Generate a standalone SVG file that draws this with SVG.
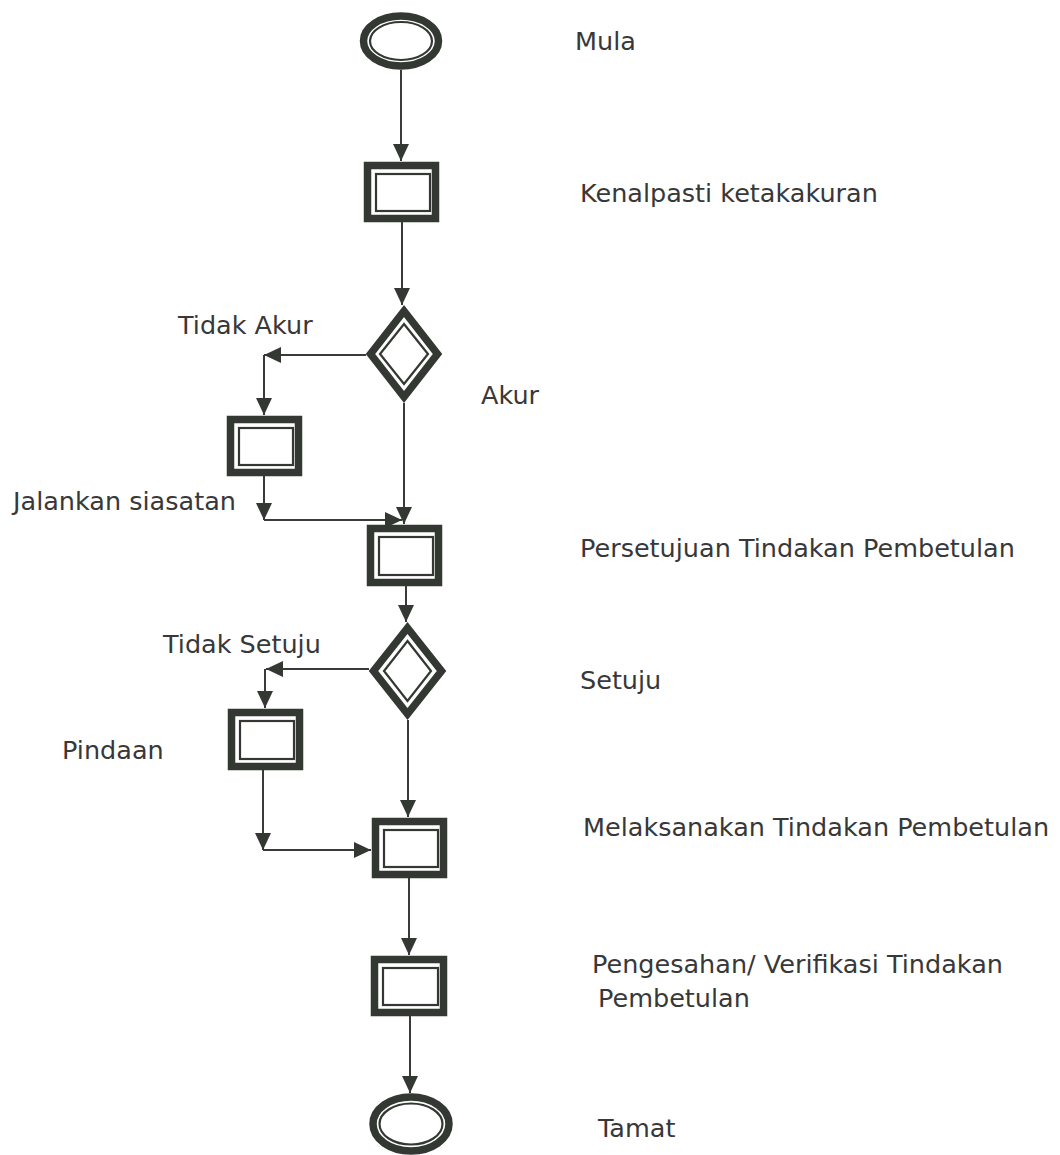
<svg xmlns="http://www.w3.org/2000/svg" width="1060" height="1155" viewBox="0 0 1060 1155">
<style>
.thick{fill:#fff;stroke:#333833;stroke-width:7.5;stroke-linejoin:miter}
.thin{fill:#fff;stroke:#333833;stroke-width:2.2}
.conn{fill:none;stroke:#3a3a3a;stroke-width:2;marker-end:url(#ah)}
text{font-family:"DejaVu Sans","Verdana",sans-serif;font-size:25.5px;fill:#383838}
</style>
<defs>
<marker id="ah" markerUnits="userSpaceOnUse" markerWidth="20" markerHeight="20" refX="17" refY="10" orient="auto" viewBox="0 0 20 20">
<path d="M0,2 L17,10 L0,18 z" fill="#333833"/>
</marker>
</defs>
<rect width="1060" height="1155" fill="#fff"/>
<g id="connectors">
<line class="conn" x1="401" y1="70" x2="401" y2="161"/>
<line class="conn" x1="402" y1="222" x2="402" y2="305"/>
<line class="conn" x1="366" y1="355" x2="264" y2="355"/>
<line class="conn" x1="264" y1="355" x2="264" y2="415"/>
<line class="conn" x1="264" y1="476" x2="264" y2="520"/>
<line class="conn" x1="264" y1="520" x2="402" y2="520"/>
<line class="conn" x1="404" y1="403" x2="404" y2="524"/>
<line class="conn" x1="406" y1="586" x2="406" y2="622"/>
<line class="conn" x1="369" y1="669" x2="266" y2="669"/>
<line class="conn" x1="265" y1="669" x2="265" y2="708"/>
<line class="conn" x1="263" y1="770" x2="263" y2="850"/>
<line class="conn" x1="263" y1="850" x2="371" y2="850"/>
<line class="conn" x1="408" y1="720" x2="408" y2="817"/>
<line class="conn" x1="409" y1="878" x2="409" y2="955"/>
<line class="conn" x1="410" y1="1016" x2="410" y2="1093"/>
</g>
<g id="start">
<ellipse class="thick" cx="401" cy="41" rx="37.5" ry="25" stroke-width="7"/>
<ellipse class="thin" cx="401" cy="41" rx="31" ry="19"/>
</g>
<g id="box1">
<rect class="thick" x="367.5" y="165.5" width="68" height="53"/>
<rect class="thin" x="376" y="174" width="54" height="37"/>
</g>
<g id="decision1">
<polygon class="thick" points="404,311 437.5,354 404,397 370.5,354"/>
<polygon class="thin" points="404,324 428,354 404,384 380,354"/>
</g>
<g id="box2">
<rect class="thick" x="230.5" y="419.5" width="68" height="53"/>
<rect class="thin" x="239" y="428" width="54" height="37"/>
</g>
<g id="box3">
<rect class="thick" x="370.5" y="528.5" width="68" height="54"/>
<rect class="thin" x="379" y="537" width="54" height="38"/>
</g>
<g id="decision2">
<polygon class="thick" points="407.5,628 441.5,671 407.5,714 373.5,671"/>
<polygon class="thin" points="407.5,641 431,671 407.5,701 384,671"/>
</g>
<g id="box4">
<rect class="thick" x="231.5" y="712.5" width="68" height="54"/>
<rect class="thin" x="240" y="721" width="54" height="38"/>
</g>
<g id="box5">
<rect class="thick" x="375.5" y="821.5" width="68" height="53"/>
<rect class="thin" x="384" y="830" width="54" height="37"/>
</g>
<g id="box6">
<rect class="thick" x="374.5" y="959.5" width="69" height="53"/>
<rect class="thin" x="383" y="968" width="55" height="37"/>
</g>
<g id="end">
<ellipse class="thick" cx="411" cy="1124" rx="38" ry="27" stroke-width="7"/>
<ellipse class="thin" cx="411" cy="1124" rx="31.5" ry="20.5"/>
</g>
<g id="labels">
<text x="575" y="50">Mula</text>
<text x="580" y="202">Kenalpasti ketakakuran</text>
<text x="178" y="334">Tidak Akur</text>
<text x="481" y="404">Akur</text>
<text x="13" y="510">Jalankan siasatan</text>
<text x="580" y="557">Persetujuan Tindakan Pembetulan</text>
<text x="163" y="653">Tidak Setuju</text>
<text x="580" y="689">Setuju</text>
<text x="62" y="759">Pindaan</text>
<text x="583" y="836">Melaksanakan Tindakan Pembetulan</text>
<text x="592" y="973">Pengesahan/ Verifikasi Tindakan</text>
<text x="598" y="1007">Pembetulan</text>
<text x="598" y="1137">Tamat</text>
</g>
</svg>
